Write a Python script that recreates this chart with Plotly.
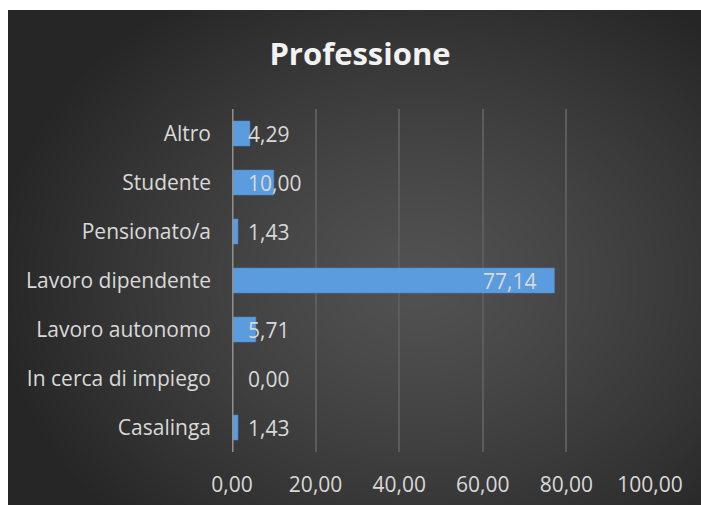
import base64, struct, zlib
import numpy as np
import plotly.graph_objects as go

categories = ["Casalinga", "In cerca di impiego", "Lavoro autonomo", "Lavoro dipendente",
              "Pensionato/a", "Studente", "Altro"]
values = [1.43, 0.00, 5.71, 77.14, 1.43, 10.00, 4.29]
x_ticks = [0, 20, 40, 60, 80, 100]
title_text = "Professione"

W, H = 701, 505
L, R, T, B = 232, 650, 109, 452   # plot area in pixels
DX0, DY0 = 8, 10                  # dark area top-left
FONT = "Open Sans"


def png_data_uri(arr):
    h, w, _ = arr.shape
    raw = b"".join(b"\x00" + arr[i].tobytes() for i in range(h))
    def chunk(tag, data):
        c = struct.pack(">I", len(data)) + tag + data
        return c + struct.pack(">I", zlib.crc32(tag + data) & 0xffffffff)
    png = b"\x89PNG\r\n\x1a\n" + chunk(b"IHDR", struct.pack(">IIBBBBB", w, h, 8, 2, 0, 0, 0))
    png += chunk(b"IDAT", zlib.compress(raw, 9)) + chunk(b"IEND", b"")
    return "data:image/png;base64," + base64.b64encode(png).decode()


gw, gh = W - DX0, H - DY0
yy, xx = np.mgrid[0:gh, 0:gw].astype(float)
cx, cy = 410, 270
d = np.sqrt(((xx - cx) / 430.0) ** 2 + ((yy - cy) / 340.0) ** 2)
t = np.clip(d, 0, 1) ** 1.25
inner, outer = 82.0, 38.0
c = (inner + (outer - inner) * t).astype(np.uint8)
img = np.stack([c, c, c], axis=-1)
bg_uri = png_data_uri(img)

pw, ph = R - L, B - T

fmt = lambda v: f"{v:.2f}".replace(".", ",")

fig = go.Figure()
fig.add_trace(go.Bar(
    y=categories, x=values, orientation="h",
    marker=dict(color="#5a9cde", line=dict(color="#4a8bd2", width=0.5)),
    hoverinfo="skip",
))

lab_font = dict(color="#d9d9d9", size=21, family=FONT)
annotations = []
for cat, v in zip(categories, values):
    if v > 50:
        annotations.append(dict(x=v, y=cat, xref="x", yref="y", text=fmt(v), showarrow=False,
                                xanchor="right", xshift=-16, font=lab_font))
    else:
        annotations.append(dict(x=0, y=cat, xref="x", yref="y", text=fmt(v), showarrow=False,
                                xanchor="left", xshift=14, font=lab_font))

# white frame strips (top and left) around the dark chart area, in paper units
px = lambda p: (p - L) / pw
py = lambda p: (B - p) / ph
frame = [
    dict(type="rect", xref="paper", yref="paper", x0=px(-5), x1=px(W + 5), y0=py(DY0), y1=py(-5),
         fillcolor="white", line=dict(width=0), layer="below"),
    dict(type="rect", xref="paper", yref="paper", x0=px(-5), x1=px(DX0), y0=py(H + 5), y1=py(-5),
         fillcolor="white", line=dict(width=0), layer="below"),
]

fig.update_layout(
    width=W, height=H,
    margin=dict(l=L, r=W - R, t=T, b=H - B, pad=0, autoexpand=False),
    paper_bgcolor="#2b2b2b",
    plot_bgcolor="rgba(0,0,0,0)",
    separators=", ",
    showlegend=False,
    bargap=0.49,
    title=dict(text=title_text, x=360 / W, xanchor="center", y=1 - 54 / H, yanchor="middle",
               xref="container", yref="container",
               font=dict(family=FONT, size=31, color="#f2f2f2", weight="bold")),
    font=dict(family=FONT, size=21, color="#d9d9d9"),
    images=[dict(source=bg_uri, xref="paper", yref="paper",
                 x=px(DX0), y=py(DY0),
                 sizex=gw / pw, sizey=gh / ph,
                 xanchor="left", yanchor="top", sizing="stretch", layer="below")],
    xaxis=dict(range=[0, 100], tickvals=x_ticks, tickformat=".2f",
               showgrid=True, gridcolor="#5c5c5c", gridwidth=1.5,
               zeroline=False, showline=False, ticks="", automargin=False,
               ticklabelstandoff=18, fixedrange=True,
               tickfont=lab_font),
    yaxis=dict(showgrid=False, zeroline=False, showline=False, ticks="", automargin=False,
               ticklabelstandoff=20, fixedrange=True,
               tickfont=lab_font),
    annotations=annotations,
    shapes=frame + [dict(type="line", xref="x", yref="paper", x0=0, x1=0, y0=0, y1=1,
                         line=dict(color="#8f8f8f", width=3), layer="above")],
)

fig.write_html(
    "out.html",
    config={"displayModeBar": False},
    post_script="document.body.style.margin='0';document.body.style.overflow='hidden';",
)
